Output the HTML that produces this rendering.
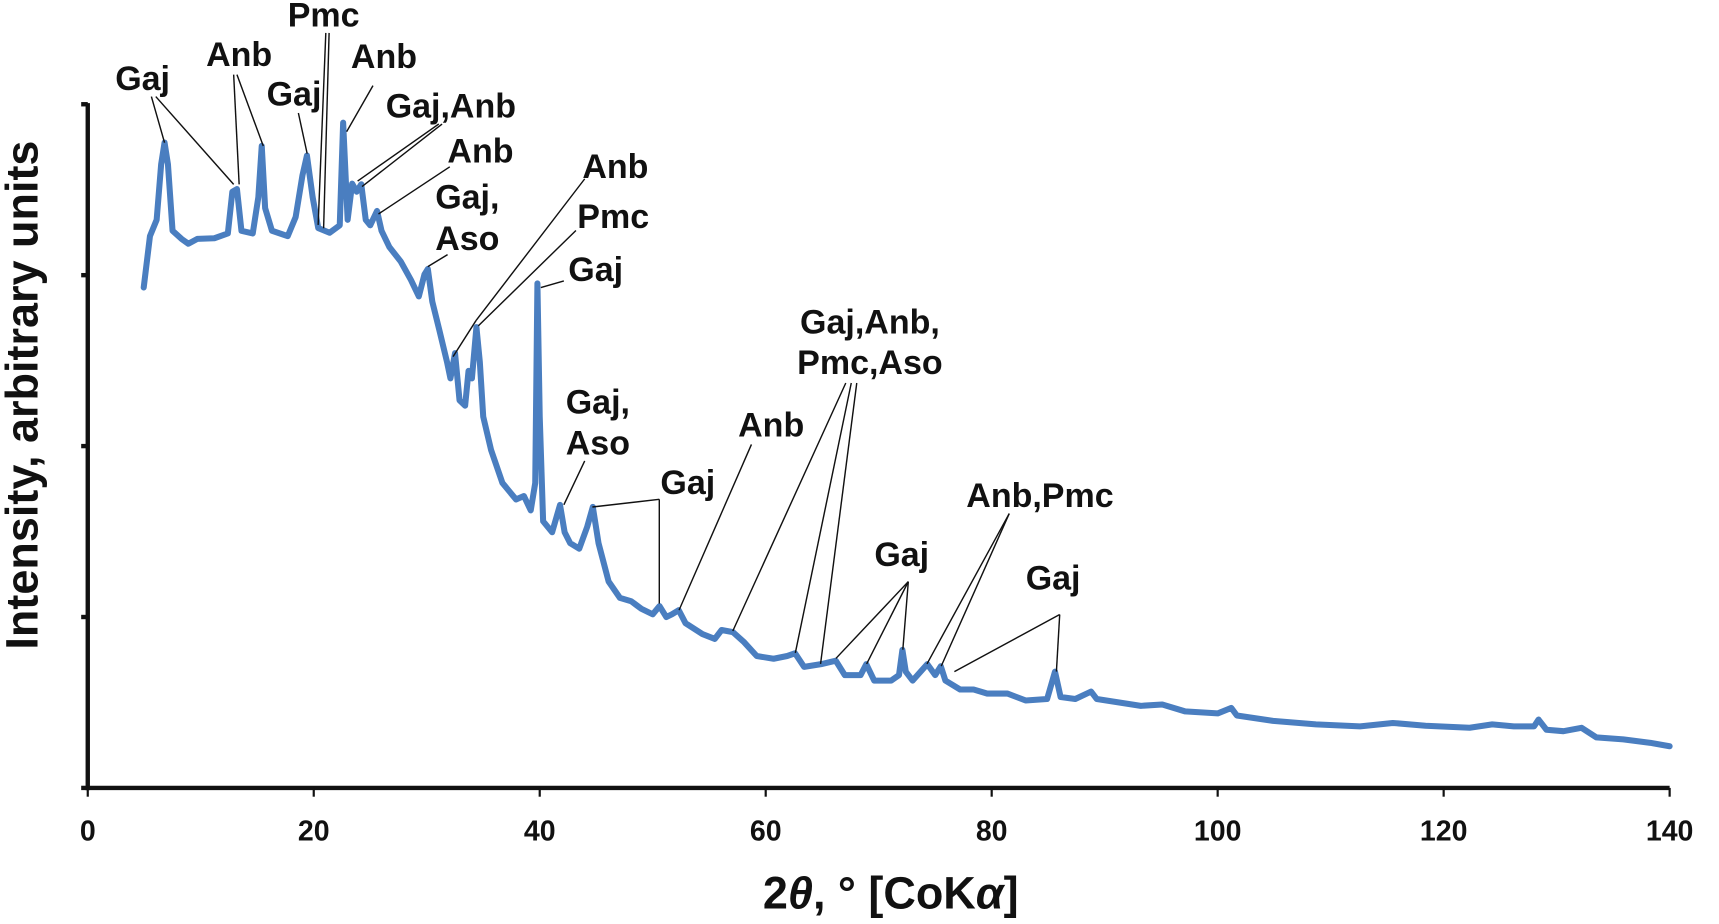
<!DOCTYPE html>
<html><head><meta charset="utf-8"><style>
html,body{margin:0;padding:0;background:#fff;}
svg{display:block;}
text{font-family:"Liberation Sans",Arial,sans-serif;font-weight:bold;fill:#111;}
</style></head><body>
<svg id="chart" width="1719" height="924" viewBox="0 0 1567 842" preserveAspectRatio="none" xmlns="http://www.w3.org/2000/svg">
<g id="axes"></g>
<g id="series"></g>
<g id="annot"></g>
<text x="0" y="0" transform="translate(34,360) rotate(-90)" text-anchor="middle" font-size="41">Intensity, arbitrary units</text>
<text x="812" y="828" text-anchor="middle" font-size="41">2<tspan font-style="italic">θ</tspan>, ° [CoK<tspan font-style="italic">α</tspan>]</text>
</svg>
<script>
const xTicks=[0,20,40,60,80,100,120,140];
const yTicks=[0,25,50,75,100];
const twoTheta=[4.95,5.5,6.1,6.5,6.8,7.1,7.5,8.3,8.9,9.7,11.2,12.4,12.8,13.2,13.6,14.6,15.1,15.4,15.7,16.3,17.7,18.4,19.0,19.4,19.9,20.4,21.4,22.3,22.6,23.0,23.4,23.8,24.2,24.6,25.0,25.6,26.0,26.7,27.7,28.6,29.3,29.8,30.1,30.5,31.1,31.8,32.1,32.5,32.9,33.4,33.7,34.0,34.4,34.7,35.0,35.7,36.7,37.9,38.6,39.2,39.6,39.8,40.0,40.3,41.1,41.8,42.2,42.7,43.5,44.2,44.7,45.2,46.1,47.1,48.1,49.0,50.0,50.6,51.2,51.7,52.3,52.9,54.4,55.5,56.1,57.1,58.1,59.2,60.7,61.9,62.6,63.4,64.9,66.2,67.0,68.4,68.9,69.6,71.1,71.8,72.1,72.4,73.0,74.3,75.0,75.5,75.9,77.2,78.4,79.6,81.4,83.0,84.9,85.6,86.1,87.4,88.8,89.3,93.2,95.1,97.1,100.0,101.2,101.7,104.9,108.7,112.6,115.5,118.4,122.3,124.3,126.2,128.0,128.4,129.1,130.6,132.2,133.5,135.9,138.3,140];
const intensity=[73.2,80.7,83.1,91.2,94.4,91.2,81.5,80.3,79.6,80.3,80.4,81.1,87.2,87.6,81.5,81.1,86.4,93.9,84.8,81.5,80.7,83.5,89.6,92.5,86.4,81.9,81.2,82.3,97.3,83.1,88.4,87.2,88.3,83.1,82.3,84.4,81.5,79.1,77.0,74.3,71.9,75.1,75.9,71.1,67.1,62.3,59.9,63.6,56.7,55.9,61.0,59.9,67.4,62.3,54.3,49.4,44.6,42.2,42.7,40.6,44.6,73.8,54.3,39.0,37.4,41.4,37.4,35.8,35.0,38.2,41.1,35.8,30.2,27.8,27.3,26.2,25.4,26.6,25.0,25.4,26.0,24.1,22.5,21.8,23.1,22.8,21.3,19.3,18.9,19.3,19.7,17.7,18.1,18.6,16.5,16.5,18.1,15.7,15.7,16.5,20.2,17.0,15.7,18.1,16.5,17.8,15.7,14.4,14.4,13.8,13.8,12.8,13.0,17.0,13.3,13.0,14.1,13.0,12.0,12.2,11.2,10.9,11.7,10.6,9.8,9.3,9.0,9.5,9.1,8.8,9.3,9.0,9.0,10.0,8.5,8.3,8.8,7.4,7.1,6.6,6.1];
const NS="http://www.w3.org/2000/svg";
const X0=80,X1=1522,Y0=718,Y1=95;
function sx(v){return X0+(v-0)/(140-0)*(X1-X0);}
function sy(v){return Y0-(v-0)/(100-0)*(Y0-Y1);}
function mk(tag,attrs,parent){const e=document.createElementNS(NS,tag);for(const k in attrs)e.setAttribute(k,attrs[k]);parent.appendChild(e);return e;}
const axes=document.getElementById('axes');
let a=mk('line',{x1:X0,y1:Y1-1,x2:X0,y2:Y0+2,stroke:'#111','stroke-width':4},axes);


a=mk('line',{x1:X0-2,y1:Y0,x2:X1,y2:Y0,stroke:'#111','stroke-width':4},axes);


yTicks.forEach(t=>{const l=mk('line',{x1:X0-6,y1:sy(t),x2:X0,y2:sy(t),stroke:'#111','stroke-width':4},axes);

});
xTicks.forEach(t=>{const l=mk('line',{x1:sx(t),y1:Y0,x2:sx(t),y2:Y0+8,stroke:'#111','stroke-width':2},axes);


const tx=mk('text',{x:sx(t),y:766,'text-anchor':'middle','font-size':26},axes);tx.textContent=t;

});
const ser=document.getElementById('series');
let d=twoTheta.map((v,i)=>(i?'L':'M')+sx(v).toFixed(1)+' '+sy(intensity[i]).toFixed(1)).join(' ');
const p=mk('path',{d:d,fill:'none',stroke:'#4a7ec0','stroke-width':5.5,'stroke-linejoin':'round','stroke-linecap':'round'},ser);


const an=document.getElementById('annot');
const labels=[["Gaj",130,82],["Anb",218,60],["Gaj",268,96],["Pmc",295,24],["Anb",350,62],["Gaj,Anb",411,107],["Anb",438,148],["Gaj,",426,190],["Aso",426,228],["Anb",561,162],["Pmc",559,208],["Gaj",543,256],["Gaj,",545,377],["Aso",545,414],["Gaj",627,450],["Anb",703,398],["Gaj,Anb,",793,304],["Pmc,Aso",793,341],["Gaj",822,516],["Anb,Pmc",948,462],["Gaj",960,537]];
labels.forEach(l=>{const t=mk('text',{x:l[1],y:l[2],'text-anchor':'middle','font-size':31},an);t.textContent=l[0];

});
const leaders=[[138,88,150,130],[142,88,213,168],[213,68,218,168],[216,68,240,133],[272,103,280,140],[297,30,290,205],[300,30,295,208],[340,78,316,120],[400,113,326,165],[403,113,330,170],[410,152,345,195],[408,232,390,243],[533,163,434,292],[434,292,413,325],[525,210,436,297],[514,256,493,262],[533,420,514,460],[601,455,540,462],[601,455,601,550],[685,405,619,556],[771,349,668,575],[776,349,725,595],[781,349,748,605],[828,530,762,600],[828,530,790,605],[828,530,823,592],[920,468,845,605],[920,468,858,607],[966,560,870,612],[966,560,963,612]];
leaders.forEach(s=>{const l=mk('line',{x1:s[0],y1:s[1],x2:s[2],y2:s[3],stroke:'#111','stroke-width':1.3},an);

});
</script>
</body></html>
